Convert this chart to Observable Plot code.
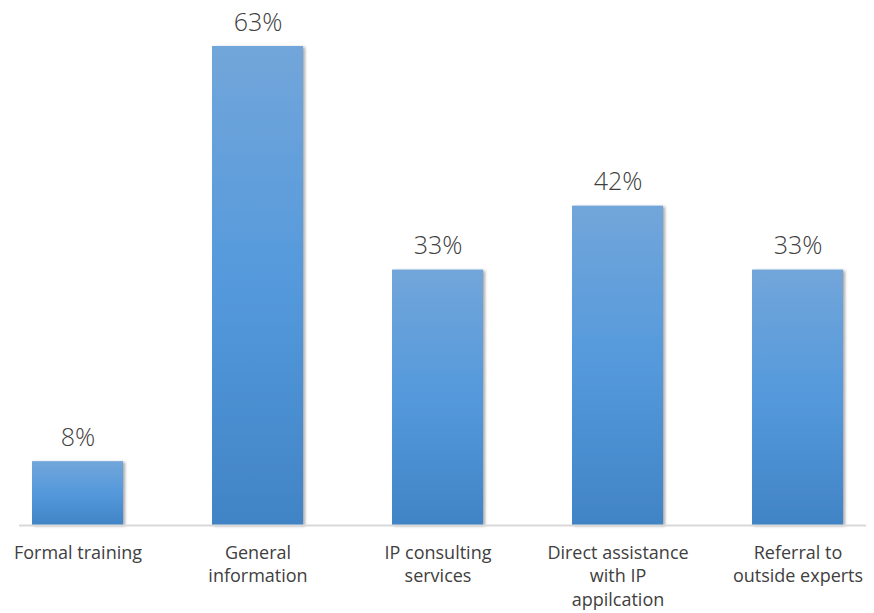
<!DOCTYPE html>
<html>
<head>
<meta charset="utf-8">
<script src="https://cdn.jsdelivr.net/npm/d3@7"></script>
<script src="https://cdn.jsdelivr.net/npm/@observablehq/plot@0.6"></script>
<style>
  html, body { margin: 0; padding: 0; background: #fff; }
  #chart { width: 874px; height: 613px; }
</style>
</head>
<body>
<div id="chart"></div>
<script>
const categories = ["Formal training", "General information", "IP consulting services", "Direct assistance with IP appilcation", "Referral to outside experts"];
const tickLabels = ["Formal training", "General\ninformation", "IP consulting\nservices", "Direct assistance\nwith IP\nappilcation", "Referral to\noutside experts"];
const values = [8.33, 62.5, 33.33, 41.67, 33.33];
const valueLabels = ["8%", "63%", "33%", "42%", "33%"];

const data = categories.map((c, i) => ({category: c, value: values[i], label: valueLabels[i], tick: tickLabels[i]}));
const tickMap = new Map(data.map(d => [d.category, d.tick]));

const chart = Plot.plot({
  width: 874,
  height: 613,
  marginLeft: 19,
  marginRight: 8,
  marginTop: 46,
  marginBottom: 88,
  style: {fontFamily: "'Open Sans', sans-serif", background: "#fff", overflow: "visible"},
  x: {domain: categories, range: [-12.5, 887.5], paddingInner: 0.4944, paddingOuter: 0.2472, label: null},
  y: {domain: [0, 62.5], axis: null},
  marks: [
    Plot.barY(data, {x: "category", y: "value", fill: "url(#barGrad)"}),
    Plot.ruleY([0], {stroke: "#d9d9d9", strokeWidth: 2}),
    Plot.text(data, {x: "category", y: "value", text: "label", dy: -16, lineAnchor: "bottom", fontSize: 25, fontWeight: 300, fill: "#404040"}),
    Plot.axisX({tickSize: 0, tickPadding: 16, fontSize: 18, lineHeight: 1.33, tickFormat: d => tickMap.get(d), color: "#404040", label: null})
  ]
});

const ns = "http://www.w3.org/2000/svg";
const defs = document.createElementNS(ns, "defs");
defs.innerHTML = `
  <linearGradient id="barGrad" x1="0" y1="0" x2="0" y2="1">
    <stop offset="0" stop-color="#72a6da"/>
    <stop offset="0.5" stop-color="#5499dc"/>
    <stop offset="1" stop-color="#4184c6"/>
  </linearGradient>
  <filter id="barShadow" x="-10%" y="-10%" width="130%" height="130%">
    <feDropShadow dx="2" dy="1" stdDeviation="1.8" flood-color="#000" flood-opacity="0.35"/>
  </filter>`;
chart.insertBefore(defs, chart.firstChild);
chart.querySelectorAll("g[aria-label='bar'] rect").forEach(r => r.setAttribute("filter", "url(#barShadow)"));
document.getElementById("chart").appendChild(chart);
</script>
</body>
</html>
